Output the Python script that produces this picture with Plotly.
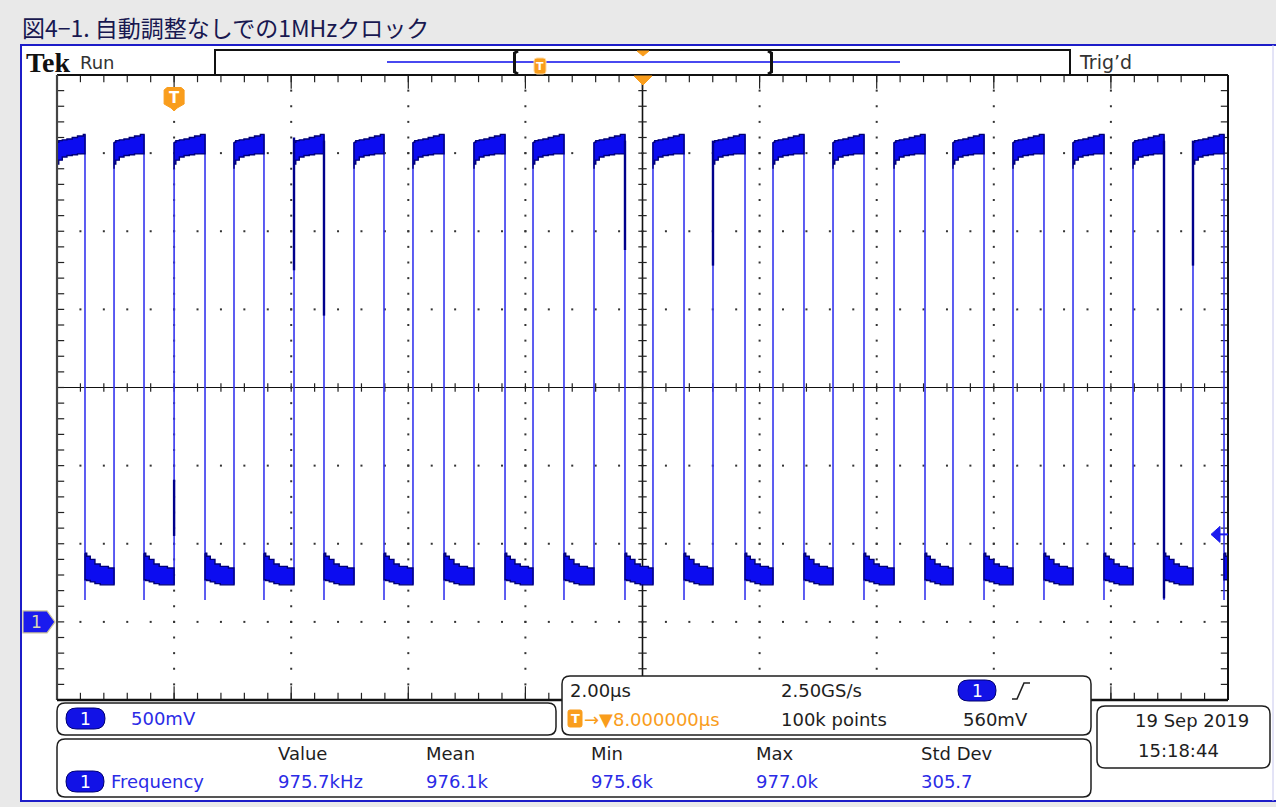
import plotly.graph_objects as go

# ---------------- data ----------------
# time in µs relative to the trigger point (T marker); 2 µs/div, screen spans -2 .. 18 µs
# voltage in V; 500 mV/div, channel-1 ground marker at 0 V
rise_us = [-1.026, 0.0, 1.023, 2.048, 3.073, 4.080, 5.122, 6.130, 7.172, 8.179,
           9.204, 10.229, 11.254, 12.296, 13.303, 14.328, 15.353, 16.378, 17.402]
fall_us = [-1.522, -0.514, 0.528, 1.535, 2.560, 3.585, 4.610, 5.652, 6.659, 7.701,
           8.709, 9.751, 10.758, 11.783, 12.825, 13.833, 14.857, 15.882, 16.907, 17.932]
# envelope of the (noisy) high level after each rising edge: offset µs -> V
hi_off = [0.00, 0.03, 0.09, 0.17, 0.26, 0.35, 0.45]
hi_top = [3.07, 3.08, 3.085, 3.09, 3.10, 3.11, 3.12]
hi_bot = [2.90, 2.93, 2.955, 2.975, 2.985, 2.99, 2.995]
# envelope of the low level after each falling edge
lo_off = [0.00, 0.03, 0.09, 0.17, 0.26, 0.40]
lo_top = [0.44, 0.42, 0.40, 0.37, 0.355, 0.345]
lo_bot = [0.27, 0.27, 0.265, 0.256, 0.245, 0.237]
fall_undershoot_v = 0.14
rise_start_v = 0.24
# darker persistence segments on some edges
dark_t = [0.0, 2.048, 2.560, 7.701, 9.204, 16.907, 17.402]
dark_top = [0.91, 3.10, 3.08, 3.08, 3.08, 3.08, 3.08]
dark_bot = [0.55, 2.25, 1.96, 2.38, 2.28, 0.15, 2.28]
trig_level_v = 0.56

timebase = "2.00µs"
sample_rate = "2.50GS/s"
record = "100k points"
trig_pos = "→▼8.000000µs"
ch1_scale = "500mV"
meas_headers = ["Value", "Mean", "Min", "Max", "Std Dev"]
meas_values = ["975.7kHz", "976.1k", "975.6k", "977.0k", "305.7"]
meas_name = "Frequency"
date_str = "19 Sep 2019"
time_str = "15:18:44"
title_str = "図4−1. 自動調整なしでの1MHzクロック"

# ---------------- geometry ----------------
W, H = 1276, 807
L, R, T, B = 57, 1228, 75, 700           # graticule box in pixels
X0, X1 = -2.0, 18.0
Y0, Y1 = -0.5, 3.5
DX = (X1 - X0) / (R - L)                 # µs per px
DY = (Y1 - Y0) / (B - T)                 # V per px

FONT = "DejaVu Sans, Liberation Sans, sans-serif"
BLUE_T = "#2b2be6"
ORANGE = "#f99d1c"
INK = "#1e1e1e"
BADGE = "#1212e6"
PAGE_BG = "#e9e9e9"


def xp(px):
    return (px - L) / (R - L)


def yp(py):
    return (B - py) / (B - T)


shapes = []
annotations = []


def line_px(x0, y0, x1, y1, color="#111", width=1.5, layer="above"):
    shapes.append(dict(type="line", xref="paper", yref="paper", x0=xp(x0), y0=yp(y0),
                       x1=xp(x1), y1=yp(y1), line=dict(color=color, width=width), layer=layer))


def path_px(pts, fill=None, color="#111", width=1.5, layer="above", close=True):
    d = "M " + " L ".join(f"{xp(a)},{yp(b)}" for a, b in pts) + (" Z" if close else "")
    shp = dict(type="path", xref="paper", yref="paper", path=d, layer=layer,
               line=dict(color=color, width=width))
    if fill:
        shp["fillcolor"] = fill
    shapes.append(shp)


def rrect(x0, y0, x1, y1, r, fill="white", color=INK, width=1.5, layer="above"):
    def P(a, b):
        return f"{xp(a)},{yp(b)}"
    d = (f"M {P(x0 + r, y0)} L {P(x1 - r, y0)} Q {P(x1, y0)} {P(x1, y0 + r)} "
         f"L {P(x1, y1 - r)} Q {P(x1, y1)} {P(x1 - r, y1)} L {P(x0 + r, y1)} "
         f"Q {P(x0, y1)} {P(x0, y1 - r)} L {P(x0, y0 + r)} Q {P(x0, y0)} {P(x0 + r, y0)} Z")
    shapes.append(dict(type="path", xref="paper", yref="paper", path=d, layer=layer,
                       fillcolor=fill, line=dict(color=color, width=width)))


def text(x, y, s, size=18, color=INK, family=FONT, anchor="left"):
    annotations.append(dict(xref="paper", yref="paper", x=xp(x), y=yp(y), text=s,
                            showarrow=False, xanchor=anchor, yanchor="middle",
                            font=dict(size=size, color=color, family=family)))


def badge(x0, y0, x1, y1):
    rrect(x0, y0, x1, y1, (y1 - y0) / 2, fill=BADGE, color="#000070", width=1)
    text((x0 + x1) / 2, (y0 + y1) / 2 + 0.5, "1", size=17, color="white", anchor="center")


# ---------------- page frame ----------------
shapes.append(dict(type="rect", xref="paper", yref="paper", x0=xp(20), x1=xp(1276),
                   y0=yp(802), y1=yp(44), fillcolor="white", line=dict(width=0), layer="below"))
line_px(20, 45, 1276, 45, color="#1c1cc8", width=2)
line_px(21, 44, 21, 802, color="#1c1cc8", width=2)
line_px(20, 801, 1276, 801, color="#1c1cc8", width=2)
line_px(1273, 45, 1273, 801, color="#c8c8ee", width=1)
text(20, 27, title_str, size=23, color="#181850", family="Noto Sans CJK JP, Noto Sans, sans-serif")

# ---------------- graticule ----------------
traces = []
dot_x, dot_y = [], []
for k in range(1, 10):
    if k == 5:
        continue
    for s in range(1, 40):
        dot_x.append(X0 + 2 * k)
        dot_y.append(Y0 + s * 0.1)
for j in range(1, 8):
    if j == 4:
        continue
    for s in range(1, 50):
        dot_x.append(X0 + s * 0.4)
        dot_y.append(Y0 + 0.5 * j)
traces.append(go.Scatter(x=dot_x, y=dot_y, mode="markers", hoverinfo="skip",
                         marker=dict(symbol="square", size=2, color="#333", line=dict(width=0))))

# center-line and border ticks
tx_ns, ty_ns, tx_ew, ty_ew = [], [], [], []
for s in range(1, 50):
    x = X0 + s * 0.4
    tx_ns += [x, x, x]
    ty_ns += [Y1 - 3 * DY, Y0 + 3 * DY, 1.5]
for s in range(1, 40):
    y = Y0 + s * 0.1
    tx_ew += [X0 + 3 * DX, X1 - 3 * DX, 8.0]
    ty_ew += [y, y, y]
traces.append(go.Scatter(x=tx_ns, y=ty_ns, mode="markers", hoverinfo="skip",
                         marker=dict(symbol="line-ns", size=6, line=dict(width=1.2, color="#222"))))
traces.append(go.Scatter(x=tx_ew, y=ty_ew, mode="markers", hoverinfo="skip",
                         marker=dict(symbol="line-ew", size=6, line=dict(width=1.2, color="#222"))))
# longer ticks at major divisions on the borders
mx, my = [], []
for k in range(1, 10):
    mx += [X0 + 2 * k, X0 + 2 * k]
    my += [Y1 - 6 * DY, Y0 + 6 * DY]
traces.append(go.Scatter(x=mx, y=my, mode="markers", hoverinfo="skip",
                         marker=dict(symbol="line-ns", size=11, line=dict(width=1.2, color="#222"))))

# center cross lines
shapes.append(dict(type="line", xref="x", yref="y", x0=8, x1=8, y0=Y0, y1=Y1,
                   line=dict(color="#111", width=1.6), layer="below"))
shapes.append(dict(type="line", xref="x", yref="y", x0=X0, x1=X1, y0=1.5, y1=1.5,
                   line=dict(color="#111", width=1.2), layer="below"))

# ---------------- waveform ----------------
events = sorted([(t, "r") for t in rise_us] + [(t, "f") for t in fall_us])
bx, by = [], []
ex, ey = [], []


def band(t0, t1, off, top, bot):
    xt, yt, xb, yb = [], [], [], []
    for o, a, b in zip(off, top, bot):
        if t0 + o < t1:
            xt.append(t0 + o)
            yt.append(a)
            xb.append(t0 + o)
            yb.append(b)
    xt.append(t1)
    yt.append(yt[-1])
    xb.append(t1)
    yb.append(yb[-1])
    bx.extend(xt + xb[::-1] + [xt[0], None])
    by.extend(yt + yb[::-1] + [yt[0], None])


state = "h"
t_prev = X0
for t, kind in events:
    if kind == "f":
        band(t_prev, t, hi_off, hi_top, hi_bot)
        ex.extend([t, t, None])
        ey.extend([hi_top[-1], fall_undershoot_v, None])
        state = "l"
    else:
        band(t_prev, t, lo_off, lo_top, lo_bot)
        ex.extend([t, t, None])
        ey.extend([rise_start_v, hi_top[0], None])
        state = "h"
    t_prev = t
if state == "l":
    band(t_prev, X1, lo_off, lo_top, lo_bot)
else:
    band(t_prev, X1, hi_off, hi_top, hi_bot)

traces.append(go.Scatter(x=ex, y=ey, mode="lines", hoverinfo="skip",
                         line=dict(color="#3535ee", width=1.6)))
traces.append(go.Scatter(x=bx, y=by, mode="lines", fill="toself", hoverinfo="skip",
                         fillcolor="#0c0cf0", line=dict(color="#00007a", width=1.4, shape="hv")))
gx, gy = [], []
for t, a, b in zip(dark_t, dark_top, dark_bot):
    gx += [t, t, None]
    gy += [a, b, None]
traces.append(go.Scatter(x=gx, y=gy, mode="lines", hoverinfo="skip",
                         line=dict(color="#00008c", width=2.4)))

# graticule border
line_px(L, T, R, T, color="#111", width=2)
line_px(L, T, L, B, color="#444", width=2.2)
line_px(R, T, R, B, color="#111", width=2)
line_px(L, B, R, B, color="#111", width=2.5)

# trigger-level arrow (right edge)
ty_px = B - (trig_level_v - Y0) / DY
path_px([(1211, ty_px), (1220, ty_px - 8), (1220, ty_px + 8)], fill="#1a1aee", color="#1a1aee", width=1)
line_px(1218, ty_px, R, ty_px, color="#1a1aee", width=2)

# ground marker for channel 1
gy_px = B - (0 - Y0) / DY
path_px([(23, gy_px - 11), (47, gy_px - 11), (55, gy_px), (47, gy_px + 11), (23, gy_px + 11)],
        fill="#1a1aee", color="#c9c29a", width=1.2)
text(36, gy_px + 0.5, "1", size=17, color="#d8d6b4", anchor="center")

# trigger position marker in the graticule
t_px = L + (0 - X0) / DX
path_px([(t_px - 10, 90), (t_px - 7, 87.5), (t_px + 7, 87.5), (t_px + 10, 90), (t_px + 10, 104),
         (t_px + 3, 108), (t_px, 111), (t_px - 3, 108), (t_px - 10, 104)],
        fill=ORANGE, color=ORANGE, width=1)
text(t_px, 98, "<b>T</b>", size=15, color="white", anchor="center")

# ---------------- top bar ----------------
text(24, 62, "<b>Tek</b>", size=28, color="#111", family="Liberation Serif, DejaVu Serif, serif")
text(78, 62, "Run", size=18, color="#333")
text(1077, 62, "Trig’d", size=19, color="#333")
shapes.append(dict(type="rect", xref="paper", yref="paper", x0=xp(215), x1=xp(1070),
                   y0=yp(75), y1=yp(50), line=dict(color="#111", width=2), fillcolor="white", layer="above"))
line_px(387, 62, 900, 62, color="#4848f0", width=2)
path_px([(518, 51), (514.5, 53), (514.5, 72), (518, 74)], color="#111", width=3, close=False)
path_px([(768, 51), (771.5, 53), (771.5, 72), (768, 74)], color="#111", width=3, close=False)
rrect(534, 58, 546, 74, 3, fill=ORANGE, color="#ffd9a0", width=1)
text(540, 66.5, "<b>T</b>", size=11, color="white", anchor="center")
path_px([(637, 51), (649, 51), (643, 56)], fill=ORANGE, color=ORANGE, width=1)
path_px([(634, 76), (652, 76), (643, 85)], fill=ORANGE, color=ORANGE, width=1)

# ---------------- bottom panels ----------------
rrect(57, 703, 556, 735, 8)
badge(66, 708, 105, 729)
text(129, 718, ch1_scale, color=BLUE_T)

rrect(562, 676, 1091, 735, 8)
text(568, 690, timebase)
text(779, 690, sample_rate)
badge(958, 680, 996, 701)
path_px([(1012, 699), (1017, 699), (1024, 683), (1030, 683)], color="#222", width=1.6, close=False)
rrect(568, 710, 582, 727, 2, fill=ORANGE, color=ORANGE, width=1)
text(575, 718.5, "<b>T</b>", size=13, color="white", anchor="center")
text(582, 719, trig_pos, color=ORANGE)
text(779, 719, record)
text(961, 719, "560mV")

rrect(1097, 706, 1270, 768, 8)
text(1133, 720, date_str)
text(1136, 750, time_str)

rrect(57, 739, 1091, 797, 8)
badge(66, 771, 104, 792)
text(109, 781, meas_name, color=BLUE_T)
for xpos, hdr, val in zip([276, 424, 589, 754, 919], meas_headers, meas_values):
    text(xpos, 753, hdr)
    text(xpos, 781, val, color=BLUE_T)

# ---------------- figure ----------------
fig = go.Figure(data=traces)
fig.update_layout(
    width=W, height=H, autosize=False,
    margin=dict(l=L, r=W - R, t=T, b=H - B, pad=0),
    paper_bgcolor=PAGE_BG, plot_bgcolor="white",
    showlegend=False,
    xaxis=dict(range=[X0, X1], showgrid=False, zeroline=False, showticklabels=False,
               ticks="", showline=False, fixedrange=True),
    yaxis=dict(range=[Y0, Y1], showgrid=False, zeroline=False, showticklabels=False,
               ticks="", showline=False, fixedrange=True),
    shapes=shapes, annotations=annotations,
)
fig.write_html("out.html", config={"displayModeBar": False},
               post_script="document.body.style.margin='0';document.body.style.padding='0';"
                           "document.body.style.background='" + PAGE_BG + "';")
